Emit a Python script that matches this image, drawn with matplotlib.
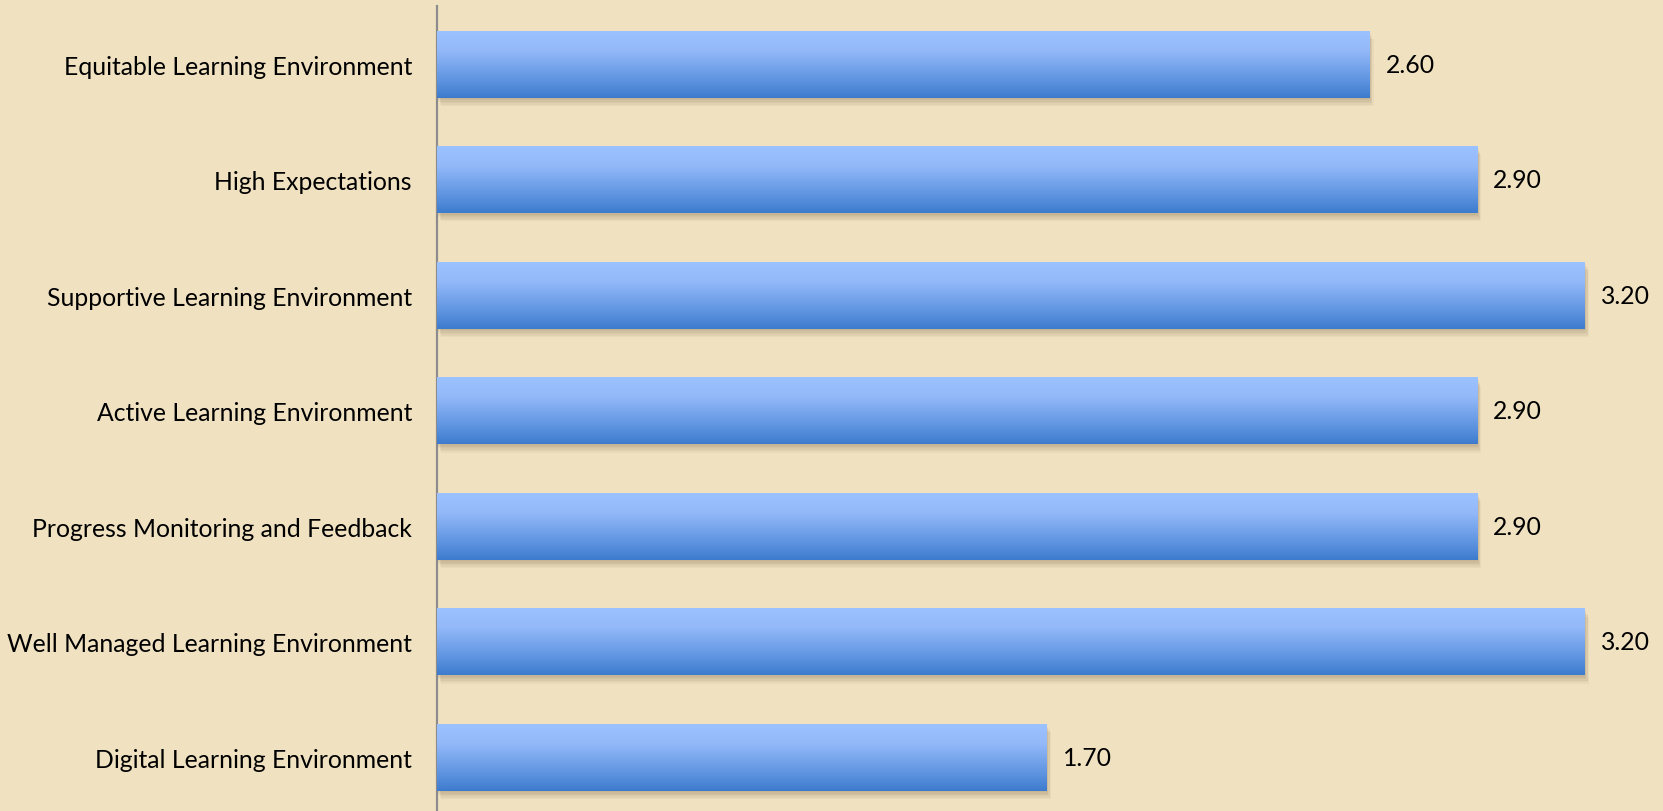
import numpy as np
import matplotlib
matplotlib.use('Agg')
import matplotlib.pyplot as plt
import matplotlib.patheffects as pe
from matplotlib.colors import LinearSegmentedColormap

# --- Data ---
categories = ['Equitable Learning Environment', 'High Expectations',
              'Supportive Learning Environment', 'Active Learning Environment',
              'Progress Monitoring and Feedback', 'Well Managed Learning Environment',
              'Digital Learning Environment']
scores = [2.60, 2.90, 3.20, 2.90, 2.90, 3.20, 1.70]

plt.rcParams['font.family'] = ['Lato', 'DejaVu Sans']

fig = plt.figure(figsize=(16.63, 8.12), dpi=100)
fig.patch.set_facecolor('#F0E2C1')

# plot area runs off the right and bottom edge like the original slide
ax = fig.add_axes([437 / 1663, -0.005, 1 - 437 / 1663, 0.996])
ax.set_facecolor('none')

y = np.arange(len(categories))
bar_h = 0.58
bars = ax.barh(y, scores, height=bar_h, color='#5A8FDC', zorder=2)

# soft drop shadow under each bar
shadow = [pe.SimplePatchShadow(offset=(dx, -dy), shadow_rgbFace='#6e5534', alpha=0.06)
          for dx, dy in [(0, 1), (1, 2), (1, 3), (2, 4), (2, 5), (3, 6)]]
for b in bars:
    b.set_path_effects(shadow + [pe.Normal()])

# vertical gradient fill
grad_cmap = LinearSegmentedColormap.from_list(
    'bar_grad', [(0.0, '#9CC2FF'), (0.3, '#93B9F9'), (0.75, '#5D93E0'), (1.0, '#3D7BCD')])
grad = np.linspace(0, 1, 256).reshape(-1, 1)
for b, yi, v in zip(bars, y, scores):
    im = ax.imshow(grad, cmap=grad_cmap, aspect='auto', zorder=3,
                   extent=(0, v, yi + bar_h / 2, yi - bar_h / 2), origin='upper')
    im.set_clip_path(b)

# value labels
for yi, v in zip(y, scores):
    ax.annotate(f'{v:.2f}', xy=(v, yi), xytext=(16, 0), textcoords='offset pixels',
                ha='left', va='center', fontsize=17.8, color='black', zorder=4)

ax.set_xlim(0, (1663 - 437) / 358.7)
ax.set_ylim(len(categories) - 0.5, -0.5)

ax.set_yticks(y)
ax.set_yticklabels(categories, fontsize=17.8)
ax.tick_params(axis='y', length=0, pad=18)
ax.set_xticks([])

for s in ['top', 'right', 'bottom']:
    ax.spines[s].set_visible(False)
ax.spines['left'].set_color('#8c8c8c')
ax.spines['left'].set_linewidth(1.6)

fig.savefig('out.png', dpi=100, facecolor=fig.get_facecolor())
